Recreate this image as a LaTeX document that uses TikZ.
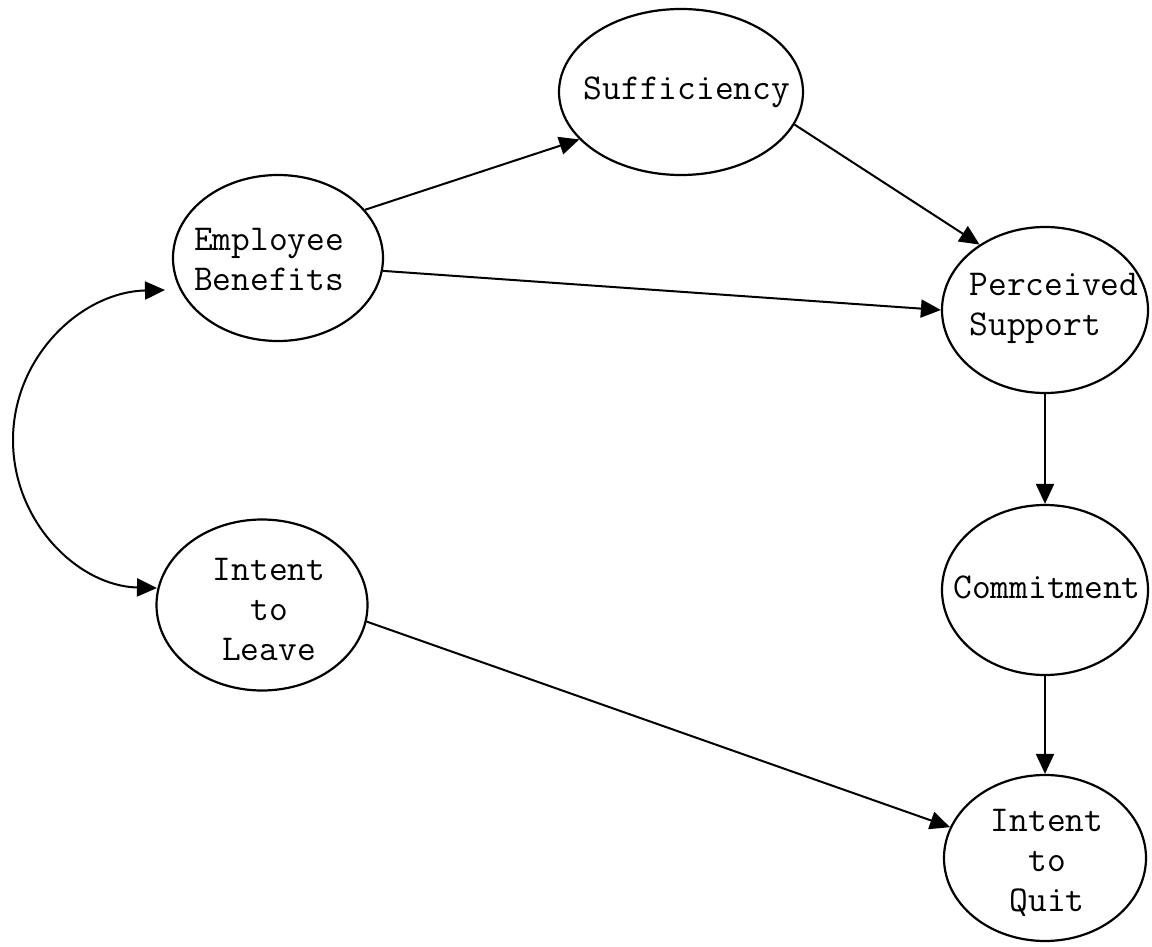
\documentclass[tikz,border=0pt]{standalone}
\usetikzlibrary{shapes.geometric,arrows.meta}
\begin{document}
\begin{tikzpicture}[x=0.5pt,y=-0.5pt,
  ell/.style={draw,line width=1.1pt,ellipse,inner sep=0pt},
  txt/.style={font=\ttfamily\fontsize{18.2}{20}\selectfont,inner sep=0pt},
  arr/.style={line width=1pt,-{Triangle[length=10pt,width=9pt]}},
  biarr/.style={line width=1pt,{Triangle[length=10pt,width=9pt]}-{Triangle[length=10pt,width=9pt]}}]
\useasboundingbox (0,0) rectangle (1152,947);
\node[ell,minimum width=244pt*0.5,minimum height=166pt*0.5] (suf) at (681,92) {};
\node[ell,minimum width=210pt*0.5,minimum height=166pt*0.5] (eb) at (278,258) {};
\node[ell,minimum width=206pt*0.5,minimum height=166pt*0.5] (ps) at (1045,310) {};
\node[ell,minimum width=206pt*0.5,minimum height=170pt*0.5] (com) at (1045,590) {};
\node[ell,minimum width=202pt*0.5,minimum height=166pt*0.5] (quit) at (1045,858) {};
\node[ell,minimum width=211pt*0.5,minimum height=171pt*0.5] (leave) at (262,605) {};

\node[txt] (tsuf) at (687,92) {Sufficiency};
\node[txt,align=left] (teb) at (269,259) {Employee\\Benefits};
\node[txt,align=left] (tps) at (1054,308) {Perceived\\Support};
\node[txt] (tcom) at (1047,587) {Commitment};
\node[txt,align=center] (tquit) at (1047,863) {Intent\\to\\Quit};
\node[txt,align=center] (tleave) at (269,609) {Intent\\to\\Leave};

\draw[arr] (eb.29) -- (suf.205);
\draw[arr] (eb.-7.5) -- (ps.180);
\draw[arr] (suf.-16) -- (ps.135);
\draw[arr] (ps.south) -- (com.north);
\draw[arr] (com.south) -- (quit.north);
\draw[arr] (leave.-9) -- (quit.162);
\coordinate (bt) at (165,290);
\coordinate (bm) at (13,440);
\coordinate (bb) at (157,588);
\draw[biarr] (bt) .. controls (81,292) and (13,357) .. (bm)
  .. controls (13,522) and (78,586) .. (bb);
\end{tikzpicture}
\end{document}
